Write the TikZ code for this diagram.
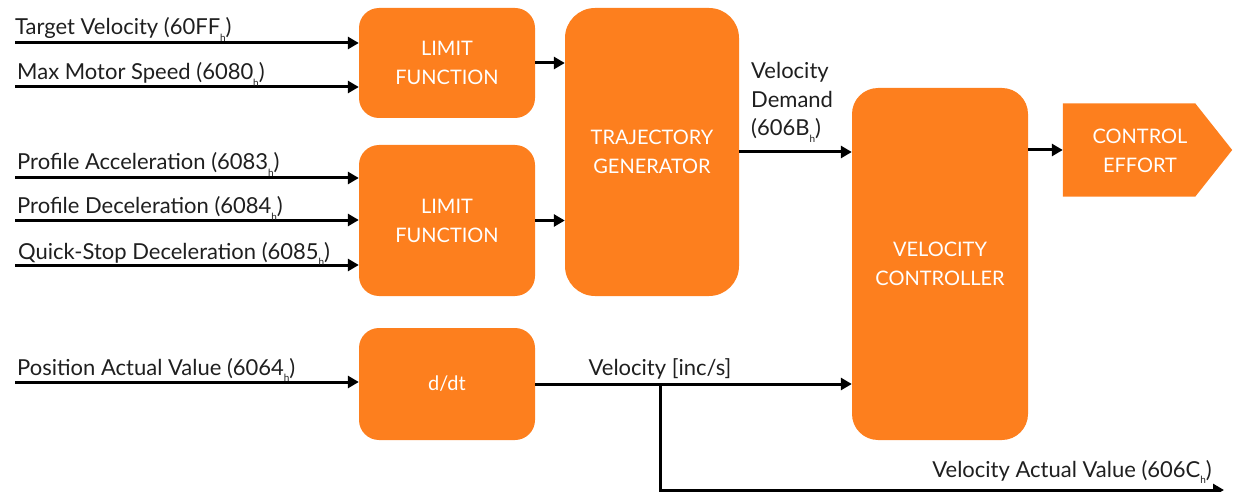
\documentclass[tikz,border=0pt]{standalone}
\usepackage{fontspec}
\setmainfont{Lato}
\usetikzlibrary{arrows.meta,backgrounds}
\definecolor{blockorange}{RGB}{253,127,30}
% small lowered "h" marking hexadecimal object indices
\newcommand{\hexsub}{\raisebox{-0.3em}{\fontsize{10}{10}\selectfont h}}
\tikzset{
  blk/.style={fill=blockorange, rounded corners=20pt, inner sep=0pt,
    text=white, align=center, font=\fontsize{20}{29}\selectfont},
  arr/.style={line width=3pt, -{Triangle[length=11pt,width=12pt]}},
  wire/.style={line width=2.4pt},
  lbl/.style={inner sep=0pt, font=\fontsize{22}{28.5}\selectfont, text=black!88},
}
\begin{document}
\begin{tikzpicture}[x=1pt,y=-1pt]
\useasboundingbox (0,0) rectangle (1235,492);

% processing blocks
\node[blk, minimum width=176pt, minimum height=110pt] (lim1) at (447,63) {LIMIT\\FUNCTION};
\node[blk, minimum width=176pt, minimum height=151pt] (lim2) at (447,220.5) {LIMIT\\FUNCTION};
\node[blk, minimum width=174pt, minimum height=288pt, rounded corners=30pt] (traj) at (652,152) {TRAJECTORY\\GENERATOR};
\node[blk, minimum width=176pt, minimum height=352pt, rounded corners=26pt] (vc) at (940,264) {VELOCITY\\CONTROLLER};
\node[blk, minimum width=176pt, minimum height=112pt] (dd) at (447,384) {d/dt};

% output pointer block
\node[inner sep=0pt, minimum width=132pt, minimum height=93pt] (ce) at (1129,150) {};
\begin{scope}[on background layer]
  \fill[blockorange] (ce.north west) -- (ce.north east) -- ([xshift=37pt]ce.east)
    -- (ce.south east) -- (ce.south west) -- cycle;
\end{scope}
\node[text=white, align=center, font=\fontsize{20}{29}\selectfont, inner sep=0pt] (cetext) at (1140,151) {CONTROL\\EFFORT};

% input signals
\coordinate (in1) at (15,43);
\coordinate (in2) at (15,87);
\coordinate (in3) at (15,178);
\coordinate (in4) at (15,220);
\coordinate (in5) at (15,265);
\coordinate (in6) at (15,382);
\draw[arr] (in1) -- (in1 -| lim1.west);
\draw[arr] (in2) -- (in2 -| lim1.west);
\draw[arr] (in3) -- (in3 -| lim2.west);
\draw[arr] (in4) -- (in4 -| lim2.west);
\draw[arr] (in5) -- (in5 -| lim2.west);
\draw[arr] (in6) -- (in6 -| dd.west);

\node[lbl, anchor=base west] at (15,35) {Target Velocity (60FF\hexsub)};
\node[lbl, anchor=base west] at (17,80) {Max Motor Speed (6080\hexsub)};
\node[lbl, anchor=base west] at (17,170) {Profile Acceleration (6083\hexsub)};
\node[lbl, anchor=base west] at (17,214) {Profile Deceleration (6084\hexsub)};
\node[lbl, anchor=base west] at (18,259) {Quick-Stop Deceleration (6085\hexsub)};
\node[lbl, anchor=base west] at (17,375) {Position Actual Value (6064\hexsub)};

% internal connections
\draw[arr] (lim1.east) -- (lim1.east -| traj.west);
\draw[arr] (lim2.east) -- (lim2.east -| traj.west);
\draw[arr] (traj.east) -- (traj.east -| vc.west);
\node[lbl, anchor=base west, align=left] at (751,136) {Velocity\\Demand\\(606B\hexsub)};
\draw[arr] (vc.east |- ce.west) -- (ce.west);

% velocity feedback
\draw[arr] (dd.east) -- (dd.east -| vc.west);
\node[lbl, anchor=base] at (660,375) {Velocity [inc/s]};
\coordinate (br) at (660,384);
\coordinate (vav) at (1224,490);
\draw[wire, arr] (br) |- (vav);
\node[lbl, anchor=base east] at (1212,477) {Velocity Actual Value (606C\hexsub)};
\end{tikzpicture}
\end{document}
